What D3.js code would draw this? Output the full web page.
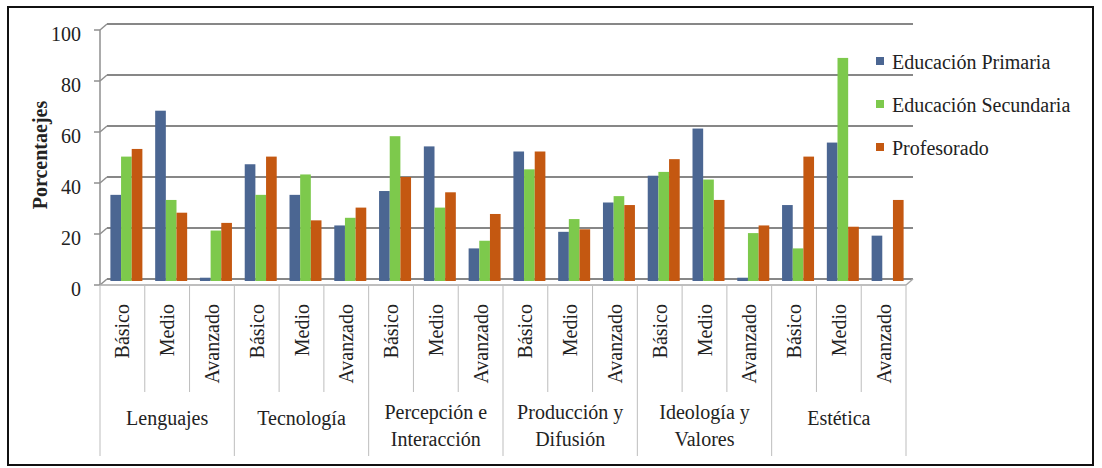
<!DOCTYPE html>
<html>
<head>
<meta charset="utf-8">
<script src="https://cdn.jsdelivr.net/npm/d3@7"></script>
<style>
  body { margin: 0; background: #fff; }
  svg text { font-family: "Liberation Serif", "DejaVu Serif", "Times New Roman", Times, serif; }
</style>
</head>
<body>
<svg id="chart" width="1102" height="468"></svg>
<script>
// grupos y niveles
var groups = [["Lenguajes"], ["Tecnología"], ["Percepción e", "Interacción"], ["Producción y", "Difusión"], ["Ideología y", "Valores"], ["Estética"]];
var levels = ["Básico", "Medio", "Avanzado"];
var seriesNames = ["Educación Primaria", "Educación Secundaria", "Profesorado"];
var seriesColors = ["#4b6692", "#7dc94c", "#c45811"];
var yTicks = [0, 20, 40, 60, 80, 100];

var primaria    = [33, 66, 0.5, 45, 33, 21, 34.5, 52, 12, 50, 18.5, 30, 40.5, 59, 0.5, 29, 53.5, 17];
var secundaria  = [48, 31, 19, 33, 41, 24, 56, 28, 15, 43, 23.5, 32.5, 42, 39, 18, 12, 86.7, 0];
var profesorado = [51, 26, 22, 48, 23, 28, 40, 34, 25.5, 50, 19.5, 29, 47, 31, 21, 48, 20.5, 31];

var values = [primaria, secundaria, profesorado];

// 3D offset of the back wall
var dx = 7, dy = 6;
var ink = "#222";

var svg = d3.select("#chart");

svg.append("rect")
    .attr("x", 8).attr("y", 7)
    .attr("width", 1085).attr("height", 458)
    .attr("fill", "none").attr("stroke", "#111").attr("stroke-width", 2);

var cats = [];
groups.forEach(function (g, gi) {
    levels.forEach(function (l, li) { cats.push(gi * 3 + li); });
});

var x0 = d3.scaleBand().domain(cats).range([100, 906]).padding(0);
var x1 = d3.scaleBand().domain(d3.range(3)).range([0, x0.bandwidth()]).paddingInner(0).paddingOuter(0.6);
var y = d3.scaleLinear().domain([0, 100]).range([279, 24]);

// back wall gridlines
var grid = svg.append("g");
yTicks.forEach(function (t) {
    grid.append("line")
        .attr("x1", 100 + dx).attr("x2", 906 + dx)
        .attr("y1", y(t)).attr("y2", y(t))
        .attr("stroke", "#878787").attr("stroke-width", 2);
    grid.append("line")
        .attr("x1", 100).attr("y1", y(t) + dy)
        .attr("x2", 100 + dx).attr("y2", y(t))
        .attr("stroke", "#8f8f8f").attr("stroke-width", 1.5);
    grid.append("line")
        .attr("x1", 94).attr("x2", 100)
        .attr("y1", y(t) + dy).attr("y2", y(t) + dy)
        .attr("stroke", "#8f8f8f").attr("stroke-width", 1.5);
    grid.append("text")
        .attr("x", 81).attr("y", y(t) + dy + 4)
        .attr("dy", "0.35em")
        .attr("text-anchor", "end")
        .attr("fill", ink)
        .style("font-size", "20px")
        .text(t);
});

grid.append("line")
    .attr("x1", 100).attr("x2", 100)
    .attr("y1", y(100) + dy).attr("y2", y(0) + dy)
    .attr("stroke", "#8f8f8f").attr("stroke-width", 1.5);
grid.append("line")
    .attr("x1", 100).attr("x2", 906)
    .attr("y1", y(0) + dy).attr("y2", y(0) + dy)
    .attr("stroke", "#a8a8a8").attr("stroke-width", 1.5);
grid.append("line")
    .attr("x1", 906).attr("y1", y(0) + dy)
    .attr("x2", 906 + dx).attr("y2", y(0))
    .attr("stroke", "#a8a8a8").attr("stroke-width", 1.5);

// bars
var bars = svg.append("g").attr("transform", "translate(4,0)");
values.forEach(function (arr, si) {
    bars.selectAll(".s" + si)
        .data(arr)
        .enter().append("rect")
        .attr("class", "s" + si)
        .attr("x", function (d, i) { return x0(i) + x1(si); })
        .attr("width", x1.bandwidth())
        .attr("y", function (d) { return y(d); })
        .attr("height", function (d) { return d > 0 ? y(0) - y(d) + 2 : 0; })
        .attr("fill", seriesColors[si]);
});

// category axis
var ax = svg.append("g");
var top0 = y(0) + dy;
for (var i = 0; i <= cats.length; i++) {
    var xx = i < cats.length ? x0(i) : x0.range()[1];
    ax.append("line")
        .attr("x1", xx).attr("x2", xx)
        .attr("y1", top0).attr("y2", i % 3 === 0 ? 456 : 392)
        .attr("stroke", "#bdbdbd").attr("stroke-width", 1);
}

ax.selectAll(".lvl")
    .data(cats)
    .enter().append("text")
    .attr("class", "lvl")
    .attr("transform", function (d) {
        return "translate(" + (x0(d) + x0.bandwidth() / 2) + ",304) rotate(-90)";
    })
    .attr("dy", "0.35em")
    .attr("text-anchor", "end")
    .attr("fill", ink)
    .style("font-size", "20px")
    .text(function (d) { return levels[d % 3]; });

groups.forEach(function (g, gi) {
    var cx = (x0(gi * 3) + x0(gi * 3 + 2) + x0.bandwidth()) / 2;
    var t = ax.append("text")
        .attr("x", cx)
        .attr("y", g.length === 1 ? 418 : 412)
        .attr("text-anchor", "middle")
        .attr("fill", ink)
        .style("font-size", "20px");
    g.forEach(function (line, li) {
        t.append("tspan").attr("x", cx).attr("dy", li === 0 ? "0.35em" : "1.35em").text(line);
    });
});

// y axis title
svg.append("text")
    .attr("transform", "translate(40,155) rotate(-90)")
    .attr("dy", "0.35em")
    .attr("text-anchor", "middle")
    .attr("fill", ink)
    .style("font-size", "20px")
    .style("font-weight", "bold")
    .text("Porcentaejes");

// legend
var legend = svg.append("g");
seriesNames.forEach(function (n, i) {
    var ly = 62 + i * 43;
    legend.append("rect")
        .attr("x", 876).attr("y", ly - 5)
        .attr("width", 8).attr("height", 8)
        .attr("fill", seriesColors[i]);
    legend.append("text")
        .attr("x", 892).attr("y", ly)
        .attr("dy", "0.35em")
        .attr("fill", ink)
        .style("font-size", "20px")
        .text(n);
});
</script>
</body>
</html>
